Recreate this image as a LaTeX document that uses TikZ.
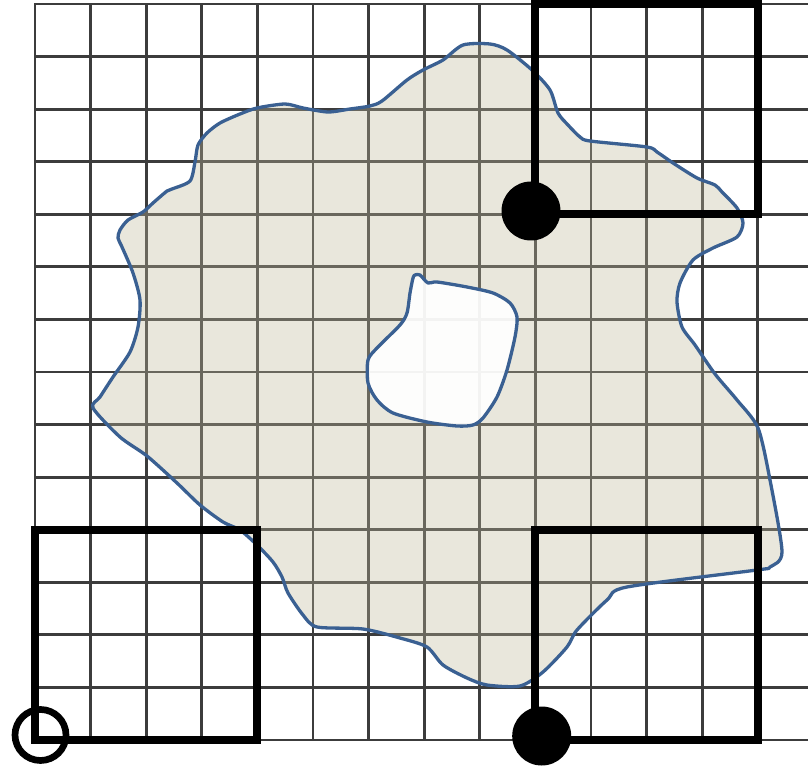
\documentclass[tikz,border=0pt]{standalone}
\definecolor{gridgray}{RGB}{60,60,60}
\definecolor{blobline}{RGB}{58,96,146}
\definecolor{blobfill}{RGB}{191,186,155}
\begin{document}
\begin{tikzpicture}[x=1pt,y=-1pt,
  gridline/.style={draw=gridgray, line width=2.8pt, line cap=rect},
  bold/.style={draw=black, line width=8pt, line join=miter},
  blob/.style={draw=blobline, line width=3.3pt, line join=round},
  dot/.style={circle, fill=black, inner sep=0pt, minimum size=59pt},
  ring/.style={circle, draw=black, line width=6.7pt, inner sep=0pt, minimum size=51pt}]
\useasboundingbox (0,0) rectangle (808,767);
% grid
\foreach \k in {0,...,13} \draw[gridline] ({35+55.6*\k},4) -- ({35+55.6*\k},740);
\foreach \j in {0,...,14} \draw[gridline] (35,{4+52.57*\j}) -- (808,{4+52.57*\j});
% outer blob
\path[blob, fill=blobfill, fill opacity=0.35] plot[smooth cycle, tension=0.45] coordinates {
 (120,230) (128,220) (143,212) (153,203) (167,191) (172,189) (190,181) (195,162)
 (198,145) (207,133) (220,123) (240,114) (257,108) (285,104) (303,108) (328,112)
 (350,109) (370,106) (382,101) (407,80) (423,70) (443,60) (463,45) (490,44)
 (507,50) (532,70) (550,90) (558,113) (568,125) (580,137) (590,141) (647,147)
 (657,152) (673,163) (697,178) (715,185) (722,192) (737,208) (743,223) (737,237)
 (713,248) (693,260) (680,283) (677,302) (682,327) (695,345) (715,374) (737,400)
 (758,428) (770,480) (782,552) (770,567) (757,570) (627,587) (607,600) (577,630)
 (567,647) (543,672) (520,686) (487,685) (467,678) (443,665) (427,647) (400,638)
 (363,629) (317,627) (303,615) (288,593) (282,577) (273,562) (257,545) (240,530)
 (223,522) (200,505) (177,483) (147,456) (120,437) (93,408) (100,397) (113,377)
 (130,352) (138,327) (140,300) (133,273) (122,247) (118,238)};
% hole
\path[blob, fill=white, fill opacity=0.92] plot[smooth cycle, tension=0.45] coordinates {
 (415,275) (420,275) (428,283) (437,282) (467,287) (493,293) (510,303) (517,317)
 (515,337) (507,370) (497,397) (483,418) (473,425) (457,426) (427,422) (393,413)
 (377,400) (368,383) (368,360) (377,348) (400,325) (407,313) (410,293) (413,278)};
% bold boxes
\draw[bold] (535.4,4) rectangle (757.8,214.3);
\draw[bold] (35,529.7) rectangle (257.4,740);
\draw[bold] (535.4,529.7) rectangle (757.8,740);
% points
\node[dot] (ptop) at (531,211) {};
\node[dot] (pbot) at (541.7,736) {};
\node[ring] (origin) at (40.5,735) {};
\end{tikzpicture}
\end{document}
